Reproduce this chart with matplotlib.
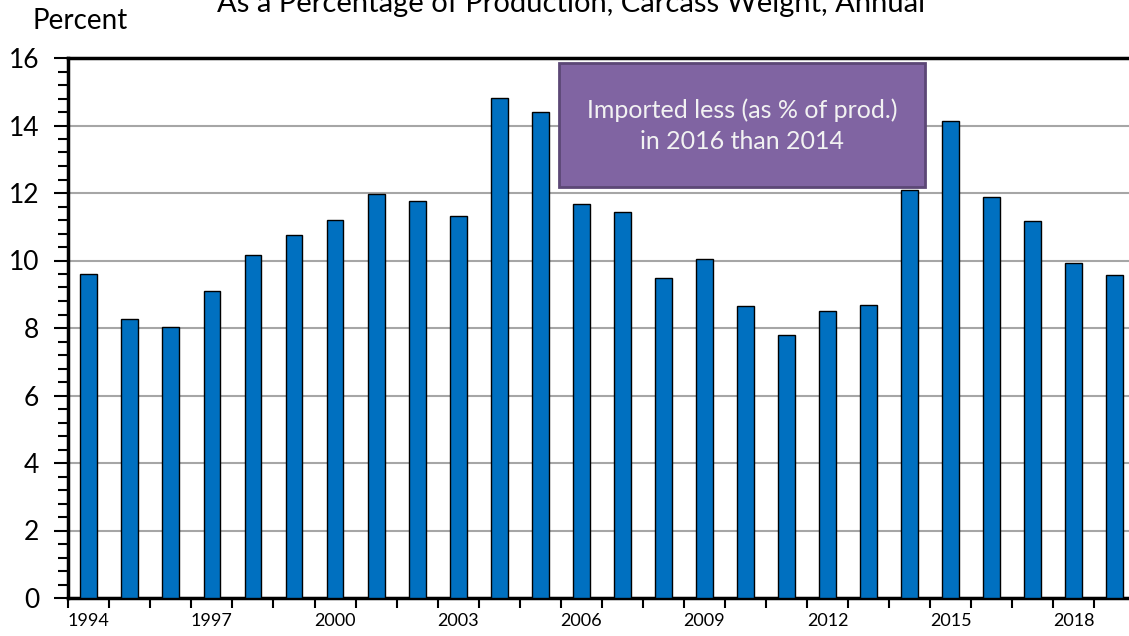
import matplotlib
matplotlib.use("Agg")
import matplotlib.pyplot as plt
from matplotlib.patches import Rectangle
from matplotlib.ticker import MultipleLocator, FixedLocator, NullFormatter

plt.rcParams['font.family'] = ['Lato', 'DejaVu Sans']

years = list(range(1994, 2020))
pct = [9.61, 8.26, 8.02, 9.09, 10.16, 10.76, 11.19, 11.98, 11.75, 11.31,
       14.81, 14.41, 11.68, 11.44, 9.47, 10.03, 8.66, 7.79, 8.50, 8.68,
       12.08, 14.13, 11.88, 11.18, 9.94, 9.57]
label_years = [1994, 1997, 2000, 2003, 2006, 2009, 2012, 2015, 2018]

title = "As a Percentage of Production, Carcass Weight, Annual"
note = "Imported less (as % of prod.)\nin 2016 than 2014"

W, H = 1129, 636
fig = plt.figure(figsize=(W / 100, H / 100), dpi=100)
# plot area runs a little past the right edge, like the source image
ax = fig.add_axes([68.3 / W, 1 - 598 / H, 1067 / W, 540 / H])

x = list(range(len(years)))
ax.bar(x, pct, width=0.41, color='#0070C0', edgecolor='black', linewidth=1.0, zorder=3)

ax.set_xlim(-0.5, len(years) - 0.5)
ax.set_ylim(0, 16)

# y axis
ax.yaxis.set_major_locator(MultipleLocator(2))
ax.yaxis.set_minor_locator(MultipleLocator(0.4))
ax.tick_params(axis='y', which='major', length=10, width=1.5, labelsize=19, pad=11, direction='out')
ax.tick_params(axis='y', which='minor', length=7, width=1.5, direction='out')
ax.grid(axis='y', which='major', color='#A6A6A6', linewidth=1.5, zorder=0)

# x axis: ticks between categories, labels every third year under the bars
ax.xaxis.set_major_locator(FixedLocator([i - 0.5 for i in range(len(years) + 1)]))
ax.xaxis.set_major_formatter(NullFormatter())
ax.xaxis.set_minor_locator(FixedLocator([years.index(y) for y in label_years]))
ax.set_xticklabels([str(y) for y in label_years], minor=True)
ax.tick_params(axis='x', which='major', length=7, width=1.5, direction='out')
ax.tick_params(axis='x', which='minor', length=0, labelsize=13, pad=11)

for side in ['top', 'left', 'bottom']:
    ax.spines[side].set_linewidth(2.5)
    ax.spines[side].set_color('black')
ax.spines['right'].set_visible(False)
ax.set_axisbelow(True)

# titles (the top of the main title is cut off in the source)
fig.text(571 / W, 1 - 4 / H, title, ha='center', va='center', fontsize=21)
fig.text(80 / W, 1 - 21 / H, "Percent", ha='center', va='center', fontsize=20)

# annotation box
bx0, bx1, by0, by1 = 559, 925, 63, 187
box = Rectangle((bx0 / W, 1 - by1 / H), (bx1 - bx0) / W, (by1 - by0) / H,
                transform=fig.transFigure, facecolor='#8064A2', edgecolor='#5C4776',
                linewidth=2, zorder=10)
fig.patches.append(box)
fig.text((bx0 + bx1) / 2 / W, 1 - 126 / H, note, ha='center', va='center',
         fontsize=18, color='#F2F2F2', linespacing=1.4, zorder=11)

fig.savefig('out.png', dpi=100)
